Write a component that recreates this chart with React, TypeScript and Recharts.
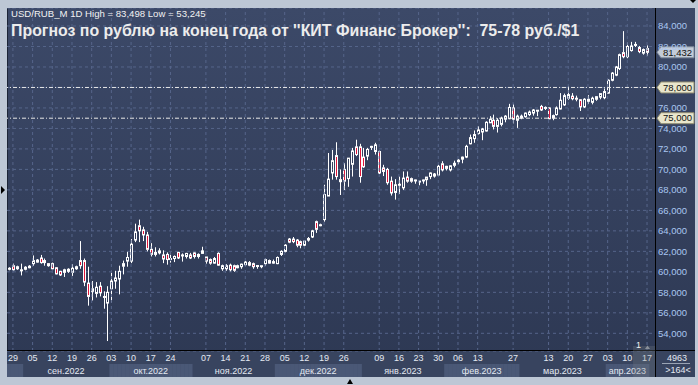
import React from "react";
import { ComposedChart, Bar, XAxis, YAxis, CartesianGrid, ReferenceLine } from "recharts";

// ---------- categories ----------
const FIRST_DAY = "2022-08-26";
const LAST_DAY = "2023-04-17";
const HOLIDAYS = ["2022-11-04", "2023-01-02", "2023-02-23", "2023-03-08"];

function buildTradingDays(): string[] {
  const out: string[] = [];
  const start = Date.parse(FIRST_DAY + "T00:00:00Z");
  const end = Date.parse(LAST_DAY + "T00:00:00Z");
  for (let t = start; t <= end; t += 86400000) {
    const dt = new Date(t);
    const wd = dt.getUTCDay();
    const s = dt.toISOString().slice(0, 10);
    if (wd === 0 || wd === 6 || HOLIDAYS.includes(s)) continue;
    out.push(s);
  }
  return out;
}
const dates = buildTradingDays();

const dayLabels = [
  "2022-08-29", "2022-09-05", "2022-09-12", "2022-09-19", "2022-09-26",
  "2022-10-03", "2022-10-10", "2022-10-17", "2022-10-24",
  "2022-11-07", "2022-11-14", "2022-11-21", "2022-11-28",
  "2022-12-05", "2022-12-12", "2022-12-19", "2022-12-26",
  "2023-01-09", "2023-01-16", "2023-01-23", "2023-01-30",
  "2023-02-06", "2023-02-13", "2023-02-27",
  "2023-03-13", "2023-03-20", "2023-03-27",
  "2023-04-03", "2023-04-10", "2023-04-17",
];

const months = ["2022-08", "2022-09", "2022-10", "2022-11", "2022-12", "2023-01", "2023-02", "2023-03", "2023-04"];
const monthLabels = ["", "сен.2022", "окт.2022", "ноя.2022", "дек.2022", "янв.2023", "фев.2023", "мар.2023", "апр.2023"];

const yTicks = [54, 56, 58, 60, 62, 64, 66, 68, 70, 72, 74, 76, 78, 80, 82, 84];
const forecastLevels = [78, 75];
const lastPrice = 81.432;

// ---------- series ----------
const open = [
  60.25, 60.6, 60.3, 60.1, 60.25, 60.4, 60.8, 60.95, 61.35, 60.9,
  60.8, 60.8, 60.4, 60.05, 59.95, 60.05, 59.95, 60.3, 61.1, 61.1,
  58.9, 58.1, 57.9, 58.6, 57.5, 56.95, 58.35, 59.1, 59.3, 60.55,
  61.05, 61.05, 63.1, 64.5, 64.1, 63.6, 62.2, 61.7, 61.85, 61.65,
  61.7, 61.2, 61.3, 61.9, 61.55, 61.5, 61.65, 61.85, 61.5, 61.8,
  61.45, 61.2, 60.85, 61.8, 60.3, 60.3, 60.65, 60.6, 60.4, 60.5,
  60.7, 60.9, 60.8, 60.6, 60.58, 60.8, 61.1, 60.85, 60.8, 61.7,
  62.0, 63.2, 63.2, 63.1, 62.95, 62.6, 63.1, 63.4, 64.9, 64.55,
  65.1, 67.4, 69.65, 71.35, 69.0, 70.0, 69.1, 70.5, 72.2, 72.2,
  71.2, 71.3, 72.15, 71.75, 71.75, 70.15, 70.0, 68.85, 67.75, 68.5,
  68.2, 69.25, 69.1, 68.95, 68.85, 68.95, 69.0, 69.3, 69.35, 69.45,
  70.55, 70.1, 69.95, 70.4, 70.75, 71.0, 71.2, 72.5, 73.0, 73.5,
  73.65, 73.75, 74.55, 74.8, 74.2, 74.4, 74.9, 74.95, 76.0, 74.8,
  75.0, 75.15, 75.35, 75.5, 75.75, 76.15, 76.0, 76.0, 75.0, 75.35,
  75.9, 76.3, 76.95, 77.15, 76.95, 76.8, 76.1, 76.65, 76.55, 76.85,
  77.05, 77.0, 77.45, 78.7, 79.2, 79.85, 81.4, 81.0, 81.6, 82.15,
  81.9, 81.35, 81.8,
];
const high = [
  60.45, 60.8, 60.6, 60.8, 60.55, 60.65, 61.6, 61.25, 61.65, 61.3,
  60.85, 60.9, 60.45, 60.1, 60.3, 60.35, 60.75, 60.6, 63.0, 61.3,
  60.5, 59.1, 59.0, 59.0, 58.1, 58.6, 59.9, 60.1, 60.6, 61.1,
  61.95, 63.2, 64.7, 65.1, 64.4, 63.9, 62.8, 62.4, 62.3, 62.1,
  61.9, 61.85, 61.6, 61.95, 61.8, 61.85, 61.85, 61.9, 61.8, 62.45,
  61.45, 61.3, 61.45, 61.9, 60.7, 60.75, 60.8, 60.7, 60.7, 60.8,
  61.05, 61.05, 60.9, 60.62, 60.6, 61.3, 61.2, 61.2, 61.5, 62.1,
  62.7, 63.3, 63.4, 63.2, 63.05, 63.1, 63.4, 64.1, 65.0, 64.7,
  68.5, 71.6, 71.9, 72.65, 70.0, 70.6, 71.1, 72.1, 72.9, 72.5,
  72.1, 72.1, 72.3, 72.6, 71.85, 70.45, 70.15, 69.3, 69.05, 69.3,
  69.8, 69.8, 69.2, 69.0, 68.87, 69.0, 69.1, 69.7, 69.65, 70.45,
  70.8, 70.35, 70.4, 70.85, 71.0, 71.25, 72.4, 73.4, 73.8, 74.2,
  74.05, 74.7, 75.2, 75.35, 75.0, 75.15, 75.3, 76.4, 76.4, 75.35,
  75.35, 75.55, 75.75, 75.9, 75.8, 76.3, 76.15, 76.05, 75.35, 76.15,
  77.45, 77.4, 78.15, 77.45, 77.2, 76.85, 76.95, 77.25, 77.1, 77.15,
  77.4, 77.9, 78.8, 79.5, 80.1, 81.3, 83.498, 82.4, 82.45, 82.45,
  82.05, 81.8, 82.1,
];
const low = [
  60.15, 60.1, 60.2, 59.65, 60.15, 60.35, 60.6, 60.9, 60.8, 60.6,
  60.5, 60.25, 59.75, 59.6, 59.5, 59.9, 59.6, 60.2, 60.3, 58.6,
  56.7, 57.2, 57.5, 57.6, 56.4, 53.245, 57.0, 58.35, 57.8, 59.75,
  60.5, 60.85, 62.9, 62.9, 63.0, 62.0, 61.5, 61.5, 61.7, 60.85,
  60.7, 60.9, 60.95, 61.25, 61.0, 61.3, 61.25, 61.3, 61.3, 61.75,
  60.8, 60.7, 60.8, 60.6, 60.1, 60.1, 60.05, 60.0, 60.35, 60.3,
  60.55, 60.55, 60.3, 60.3, 60.35, 60.6, 60.8, 60.8, 60.75, 61.55,
  61.9, 62.8, 62.8, 62.4, 62.3, 62.5, 62.95, 63.3, 63.8, 64.45,
  64.9, 67.4, 69.0, 69.0, 67.5, 68.0, 68.3, 69.3, 71.3, 68.7,
  70.15, 70.9, 71.9, 71.45, 69.55, 69.35, 68.5, 67.45, 67.05, 67.6,
  68.0, 68.7, 68.7, 68.6, 68.45, 68.6, 68.4, 69.05, 69.2, 69.35,
  69.8, 69.9, 69.8, 70.2, 70.5, 70.6, 71.1, 72.45, 72.6, 73.4,
  72.85, 73.7, 74.55, 73.9, 73.6, 74.2, 74.6, 74.9, 74.5, 74.05,
  74.9, 75.05, 75.2, 75.25, 75.2, 75.7, 75.8, 74.9, 74.8, 75.25,
  75.85, 76.2, 76.8, 76.75, 76.65, 75.7, 76.0, 76.4, 76.35, 76.7,
  76.85, 76.85, 77.4, 78.6, 79.1, 79.7, 80.85, 80.85, 81.5, 81.95,
  81.35, 81.2, 81.1,
];
const close = [
  60.35, 60.2, 60.5, 60.2, 60.45, 60.55, 61.1, 61.15, 60.9, 61.1,
  60.6, 60.3, 59.8, 59.7, 60.2, 60.25, 60.35, 60.5, 60.6, 59.0,
  57.6, 58.35, 58.5, 57.95, 57.6, 58.0, 59.1, 59.4, 60.05, 60.8,
  61.4, 62.7, 63.9, 64.0, 63.6, 62.2, 61.7, 61.9, 62.05, 61.25,
  61.2, 61.3, 61.5, 61.35, 61.65, 61.8, 61.35, 61.5, 61.7, 62.05,
  61.05, 60.85, 61.3, 60.65, 60.6, 60.6, 60.2, 60.15, 60.6, 60.75,
  60.95, 60.65, 60.5, 60.62, 60.6, 61.2, 60.85, 61.0, 61.4, 62.0,
  62.6, 62.9, 62.95, 62.6, 62.6, 63.0, 63.25, 64.0, 64.15, 64.6,
  67.55, 69.05, 70.85, 69.3, 68.8, 68.85, 71.1, 71.8, 71.45, 69.3,
  70.25, 71.95, 72.25, 72.4, 69.65, 69.8, 68.7, 67.7, 68.5, 68.55,
  69.15, 68.85, 68.85, 68.97, 68.86, 68.97, 69.25, 69.65, 69.55, 70.3,
  69.95, 70.3, 70.35, 70.6, 70.9, 71.2, 72.25, 73.1, 73.4, 73.85,
  73.95, 74.6, 74.9, 74.2, 74.8, 75.0, 75.2, 76.05, 74.9, 75.2,
  75.2, 75.5, 75.6, 75.8, 75.78, 75.8, 76.05, 74.95, 75.25, 76.0,
  76.75, 77.2, 77.3, 76.9, 76.9, 76.1, 76.85, 76.85, 76.95, 77.1,
  77.4, 77.6, 78.7, 79.4, 80.0, 81.2, 81.0, 82.0, 82.05, 82.2,
  81.5, 81.7, 81.432,
];

const data = dates.map((d, i) => ({
  d,
  o: open[i],
  h: high[i],
  l: low[i],
  c: close[i],
  hl: [low[i], high[i]],
}));

// ---------- layout constants ----------
const FONT = "'Liberation Sans', Arial, sans-serif";
const CH_LEFT = 7;
const CH_TOP = 8;
const CH_W = 688;
const CH_H = 369;
const YAXIS_W = 39;
const XAXIS_H = 26;
const PAD_R = 7;
const PLOT_W = CH_W - YAXIS_W;
const PLOT_H = CH_H - XAXIS_H;
const BW = (PLOT_W - PAD_R) / dates.length;
const Y_MIN = 52.272;
const Y_MAX = 85.757;

const dateIndex: Record<string, number> = {};
dates.forEach((d, i) => (dateIndex[d] = i));
const monthInfo = months.map((m, mi) => {
  const idxs = dates.map((d, i) => (d.startsWith(m) ? i : -1)).filter((i) => i >= 0);
  return { m, mi, first: idxs[0], last: idxs[idxs.length - 1], label: monthLabels[mi] };
});

const UP_STROKE = "#ffffff";
const DOWN_FILL = "#e0173b";

const Candle = (props: any) => {
  const { x, y, width, height, payload } = props;
  if (!payload || x == null) return null;
  const { o, h, l, c } = payload;
  const top = Math.min(y, y + height);
  const span = Math.abs(height);
  const k = h > l ? span / (h - l) : 0;
  const py = (v: number) => top + (h - v) * k;
  const cx = Math.round(x + width / 2);
  const up = c >= o;
  const bTop = py(Math.max(o, c));
  const bh = Math.max(py(Math.min(o, c)) - bTop, 1);
  return (
    <g>
      <line x1={cx + 0.5} x2={cx + 0.5} y1={top} y2={bTop} stroke={UP_STROKE} strokeWidth={1} />
      <line x1={cx + 0.5} x2={cx + 0.5} y1={bTop + bh} y2={top + span} stroke={UP_STROKE} strokeWidth={1} />
      <rect x={cx - 0.5} y={bTop} width={2} height={bh} fill={up ? "none" : DOWN_FILL} stroke={UP_STROKE} strokeWidth={1} />
    </g>
  );
};

// Each day tick draws its slice of the month band; the month name is drawn
// on the month's last trading day so that later band slices never cover it.
const DayTick = (props: any) => {
  const { x, payload } = props;
  const d: string = payload.value;
  const i = dateIndex[d];
  if (i == null) return null;
  const mi = months.findIndex((m) => d.startsWith(m));
  const info = monthInfo[mi];
  const light = mi % 2 === 0;
  const axisTop = PLOT_H;
  const els: any[] = [];
  if (light) {
    els.push(<rect key="b" x={x - BW / 2} y={axisTop + 13} width={BW + 0.4} height={14} fill="#4a5876" />);
  }
  if (dayLabels.includes(d)) {
    els.push(
      <text key="t" x={x} y={axisTop + 10} textAnchor="middle" fontSize={9} fontFamily={FONT} fill="#e4e9f2">
        {d.slice(8, 10)}
      </text>
    );
  }
  const center = (info.first + info.last) / 2;
  if (info.label && i === info.last) {
    els.push(
      <text key="m" x={x + (center - i) * BW} y={axisTop + 23} textAnchor="middle" fontSize={9} fontFamily={FONT} fill="#e4e9f2">
        {info.label}
      </text>
    );
  }
  return <g>{els}</g>;
};

// Price labels; the level that carries its own tag (78) shows the tag text instead.
const PriceTick = (props: any) => {
  const { x, y, payload } = props;
  if (forecastLevels.includes(payload.value)) return <g />;
  return (
    <text x={x + 2} y={y + 3.5} textAnchor="start" fontSize={9.5} fontFamily={FONT} fill="#a9c6f0">
      {payload.value.toFixed(3).replace(".", ",")}
    </text>
  );
};

const makeTag = (value: number, fill: string, stroke: string) => (props: any) => {
  const vb = props.viewBox || {};
  const R = (vb.x || 0) + (vb.width || 0);
  const y = vb.y || 0;
  const pts = `${R + 1},${y} ${R + 5},${y - 5.5} ${R + 38},${y - 5.5} ${R + 38},${y + 5.5} ${R + 5},${y + 5.5}`;
  return (
    <g>
      <polygon points={pts} fill={fill} stroke={stroke} strokeWidth={1} />
      <text x={R + 21.5} y={y + 3.3} textAnchor="middle" fontSize={9.5} fontFamily={FONT} fill="#101010">
        {value.toFixed(3).replace(".", ",")}
      </text>
    </g>
  );
};

export default function App() {
  return (
    <div style={{ position: "absolute", left: 0, top: 0, width: 698, height: 385, background: "#bdc7d5", overflow: "hidden", fontFamily: FONT }}>
      <div
        style={{
          position: "absolute",
          left: CH_LEFT,
          top: CH_TOP,
          width: 688,
          height: 369,
          background: "linear-gradient(#3c4968, #2d3853)",
          borderLeft: "1px solid #1c2436",
          boxSizing: "border-box",
        }}
      />
      <div style={{ position: "absolute", left: CH_LEFT, top: CH_TOP + PLOT_H, width: 688, height: XAXIS_H, background: "#38445f" }} />
      <div style={{ position: "absolute", left: CH_LEFT, top: CH_TOP }}>
        <ComposedChart width={CH_W} height={CH_H} data={data} margin={{ top: 0, right: 0, bottom: 0, left: 0 }} barCategoryGap={0}>
          <CartesianGrid vertical={false} stroke="#56658a" strokeDasharray="3 3" />
          {dayLabels.map((d) => (
            <ReferenceLine key={d} x={d} stroke="#56658a" strokeDasharray="3 3" />
          ))}
          <XAxis
            dataKey="d"
            ticks={dates}
            interval={0}
            tick={<DayTick />}
            tickLine={false}
            axisLine={false}
            height={XAXIS_H}
            padding={{ left: 0, right: PAD_R }}
          />
          <YAxis
            orientation="right"
            domain={[Y_MIN, Y_MAX]}
            ticks={yTicks}
            interval={0}
            allowDataOverflow
            width={YAXIS_W}
            tick={<PriceTick />}
            tickLine={false}
            tickSize={0}
            tickMargin={0}
            axisLine={false}
          />
          {forecastLevels.map((lv) => (
            <ReferenceLine key={lv} y={lv} stroke="#e8e8e8" strokeDasharray="4 2 1 2" label={makeTag(lv, "#e9e6cc", "#8f8c70")} />
          ))}
          <ReferenceLine y={lastPrice} stroke="none" label={makeTag(lastPrice, "#c3cbd7", "#7d899b")} />
          <Bar dataKey="hl" shape={<Candle />} isAnimationActive={false} />
        </ComposedChart>
      </div>
      <svg width={698} height={385} style={{ position: "absolute", left: 0, top: 0, pointerEvents: "none" }}>
        <line x1={7} x2={695} y1={350.5} y2={350.5} stroke="#000" strokeWidth={1} />
        <line x1={655.5} x2={655.5} y1={8} y2={377} stroke="#000" strokeWidth={1} />
        <rect x={633} y={346} width={22} height={31} fill="rgba(120,124,130,0.28)" />
        <text x={636} y={348} fontSize={9} fontFamily={FONT} fill="#f0f0f0">1</text>
        <polygon points="645,349 647.5,345.5 650,349" fill="#8a909a" />
        <text x={677} y={361} textAnchor="middle" fontSize={9} fontFamily={FONT} fill="#e4e9f2">4963</text>
        <line x1={662} x2={690} y1={363.5} y2={363.5} stroke="#9aa4b4" strokeWidth={1} />
        <text x={678} y={373} textAnchor="middle" fontSize={9} fontFamily={FONT} fill="#e4e9f2">&gt;164&lt;</text>
        <text x={11} y={17.3} fontSize={9.6} fontFamily={FONT} fill="#f2f2f2">
          USD/RUB_M 1D High = 83,498 Low = 53,245
        </text>
        <text x={11} y={36} fontSize={15.9} fontWeight="bold" fontFamily={FONT} fill="#ececec" style={{ whiteSpace: "pre" }}>
          {"Прогноз по рублю на конец года от ''КИТ Финанс Брокер'':  75-78 руб./$1"}
        </text>
        <polygon points="1,186 5,190 1,194" fill="#000" />
        <polygon points="347,384 350,379 353,384" fill="#000" />
        <polygon points="690,0 696,0 693,3" fill="#000" />
      </svg>
    </div>
  );
}
